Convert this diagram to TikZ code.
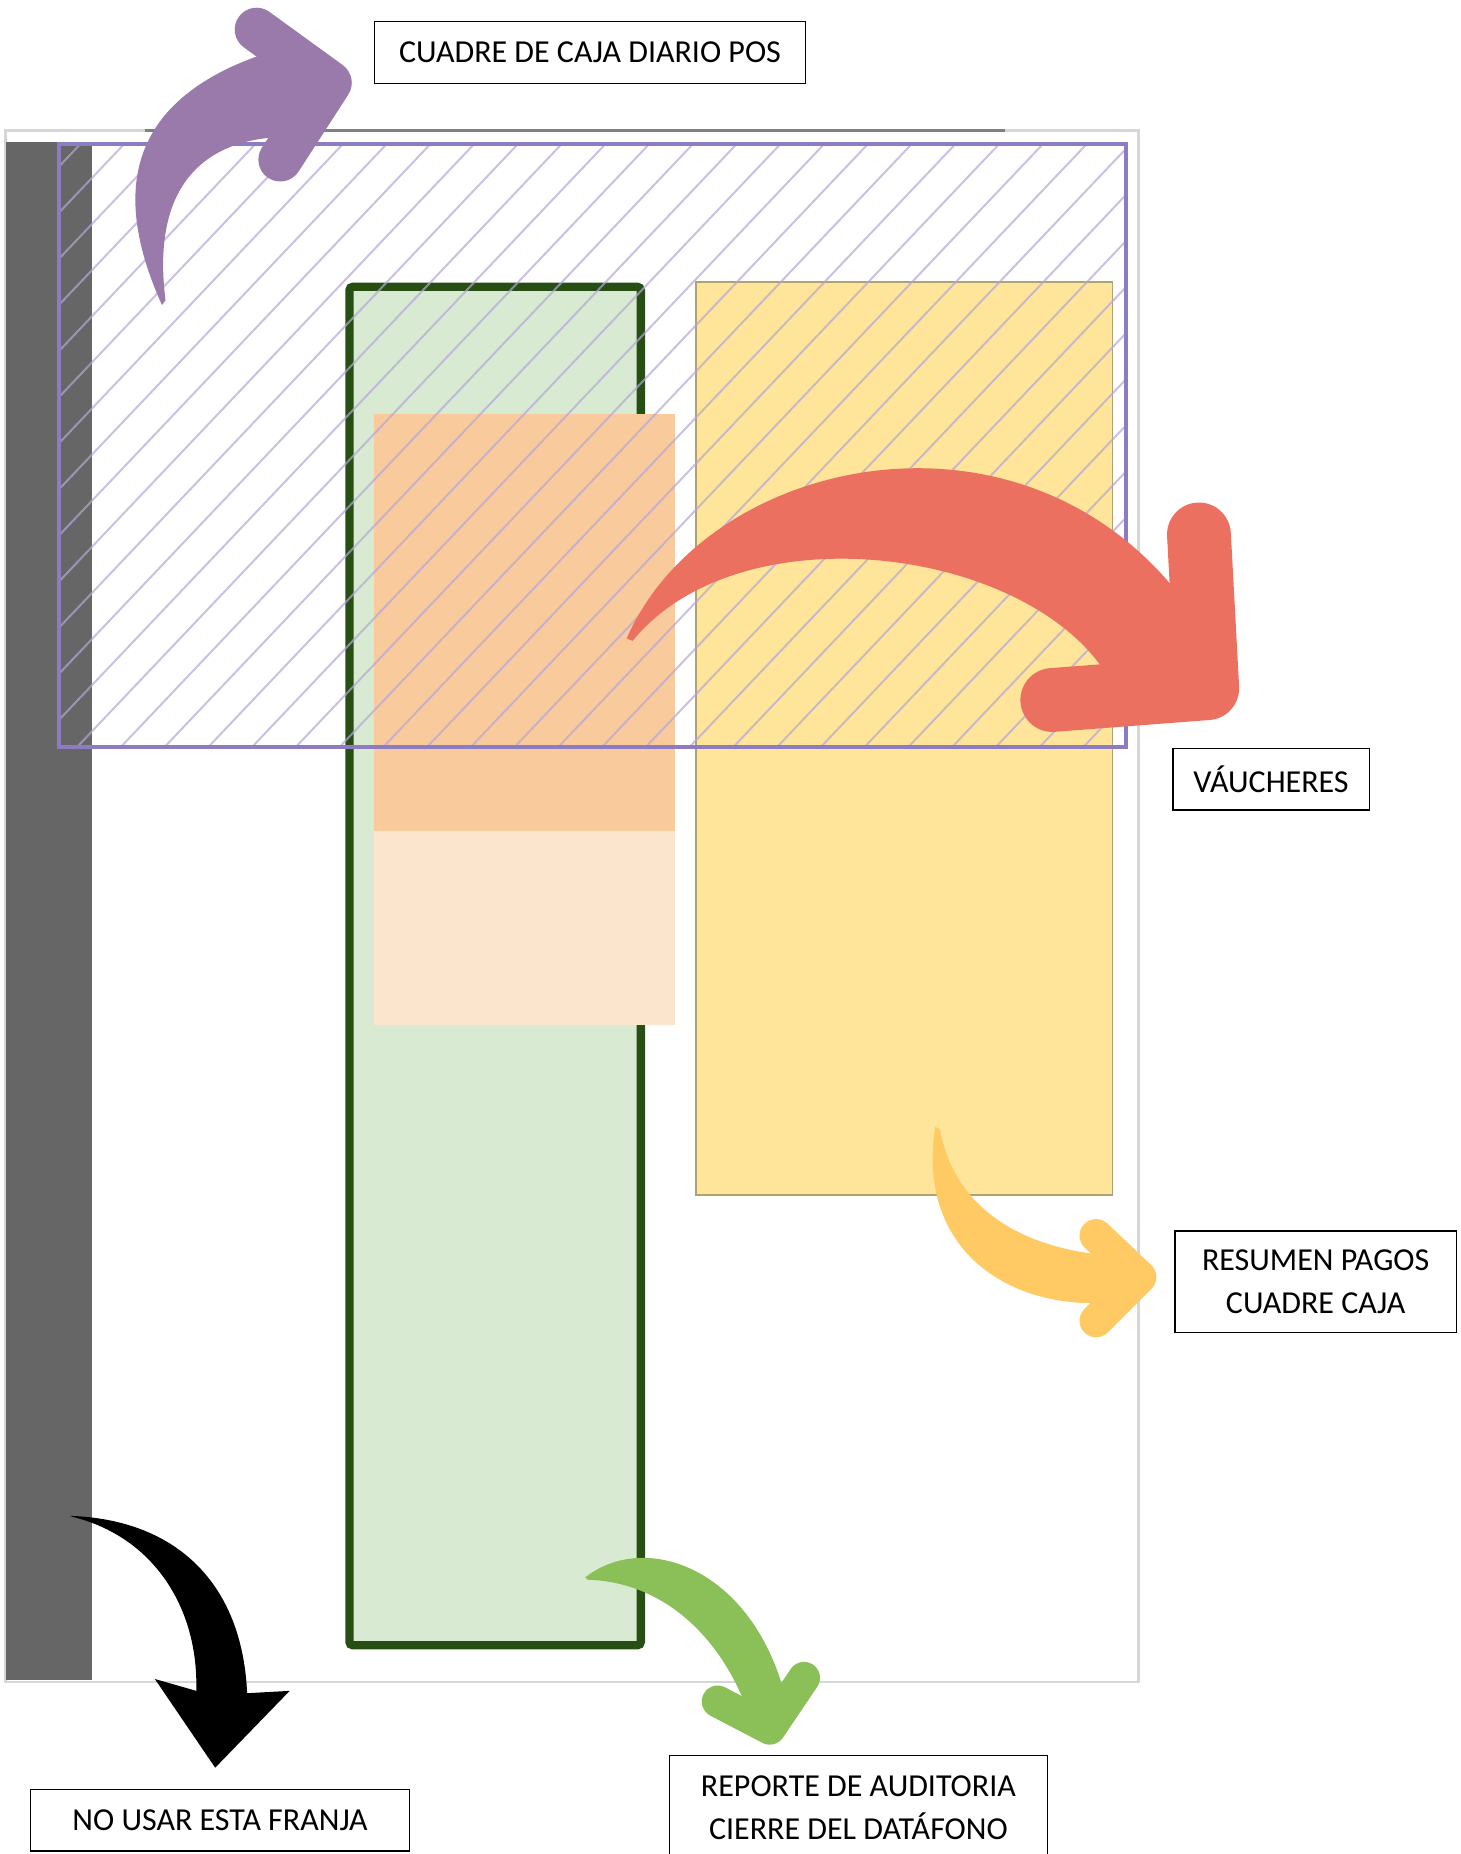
\documentclass[tikz,border=0pt]{standalone}
\usepackage{fontspec}
\setmainfont{Carlito}
\usepackage{tikz}
\usetikzlibrary{positioning}

\definecolor{framegray}{HTML}{D6D6D6}
\definecolor{stripgray}{HTML}{666666}
\definecolor{greenfill}{HTML}{D9EAD3}
\definecolor{greenedge}{HTML}{274E13}
\definecolor{orangedark}{HTML}{F9CB9C}
\definecolor{orangelight}{HTML}{FCE5CD}
\definecolor{yellowfill}{HTML}{FFE599}
\definecolor{yellowedge}{HTML}{AFA273}
\definecolor{purpleedge}{HTML}{8E7CC3}
\definecolor{hatchlav}{HTML}{B4A7D6}
\definecolor{purplearrow}{HTML}{9A7AAA}
\definecolor{redarrow}{HTML}{EC7060}
\definecolor{yellowarrow}{HTML}{FFCA64}
\definecolor{greenarrow}{HTML}{8BC059}

\newcommand\lblfont{\fontsize{7.7pt}{10.4pt}\selectfont}

\begin{document}
\begin{tikzpicture}[
    x=0.1mm, y=-0.1mm,
    lbl/.style={draw=black, line width=0.3pt, fill=white, align=center,
        inner sep=0pt, font=\lblfont},
    hatchline/.style={draw=hatchlav, line width=0.17mm, opacity=0.7},
    headline/.style={line width=#1, line cap=round, line join=round}
]
\useasboundingbox (0,0) rectangle (1235,1568);

% sheet
\draw[framegray, line width=0.25mm] (5,110.5) rectangle (963,1422.5);
\draw[gray, line width=0.2mm] (123,110.5) -- (850,110.5);
\fill[stripgray] (5,120) rectangle (77.5,1421);

% areas
\draw[greenedge, fill=greenfill, line width=0.7mm, rounded corners=0.3mm]
    (295.5,242.5) rectangle (542,1391.5);
\fill[orangedark] (316,350) rectangle (570.5,703);
\fill[orangelight] (316,703) rectangle (570.5,867);
\draw[yellowedge, fill=yellowfill, line width=0.12mm] (588.5,238.5) rectangle (941,1010.5);

% hatched zone
\begin{scope}
\clip (49.6,121.8) rectangle (952.5,631.6);
\foreach \k in {0,...,40}
    \draw[hatchline] (50.75,{179+39*(\k-3)}) +(-60,63.2) -- +(1000,-1054);
\end{scope}
\draw[purpleedge, line width=0.35mm] (49.6,121.8) rectangle (952.5,631.6);

% arrows
\fill[purplearrow] (137,258) .. controls (95,165) and (105,85) .. (225,45)
    -- (279,70) -- (234,116) .. controls (170,120) and (128,160) .. (140,254) -- cycle;
\draw[purplearrow, headline=3.7mm] (217,25) -- (279,70) -- (237,135);

\fill[redarrow] (530,540) .. controls (595,390) and (850,330) .. (990,494)
    -- (1021,582) -- (933,566) .. controls (862,462) and (625,432) .. (535,542) -- cycle;
\draw[redarrow, headline=5.4mm] (1014,452) -- (1021,582) -- (890,592);

\fill[yellowarrow] (791,953) .. controls (775,1055) and (850,1104) .. (928,1102)
    -- (964,1080) -- (930,1061) .. controls (850,1052) and (805,1012) .. (795,955) -- cycle;
\draw[yellowarrow, headline=2.8mm] (927,1045) -- (964,1080) -- (927,1117);

\fill[greenarrow] (495,1334) .. controls (545,1295) and (632,1325) .. (662,1427)
    -- (651,1462) -- (628,1436) .. controls (605,1382) and (560,1338) .. (497,1336) -- cycle;
\draw[greenarrow, headline=2.7mm] (607,1439) -- (651,1462) -- (680,1419);

\fill[black] (59,1282) .. controls (150,1285) and (205,1340) .. (209,1432)
    -- (245,1430) -- (182,1495) -- (131,1420) -- (166,1430)
    .. controls (168,1360) and (130,1300) .. (62,1283) -- cycle;

% labels
\node[lbl, minimum width=36.5mm, minimum height=5.22mm] (cuadre) at (499,44.4)
    {CUADRE DE CAJA DIARIO POS};
\node[lbl, minimum width=16.6mm, minimum height=5.2mm] (vaucheres) at (1075,659)
    {VÁUCHERES};
\node[lbl, minimum width=23.8mm, minimum height=8.6mm] (resumen) at (1112.7,1084)
    {RESUMEN PAGOS\\CUADRE CAJA};
\node[lbl, minimum width=32mm, minimum height=5.22mm] (franja) at (186.1,1539.4)
    {NO USAR ESTA FRANJA};
\node[lbl, minimum width=32mm, minimum height=8.9mm] (reporte) at (726,1529)
    {REPORTE DE AUDITORIA\\CIERRE DEL DATÁFONO};

\end{tikzpicture}
\end{document}
